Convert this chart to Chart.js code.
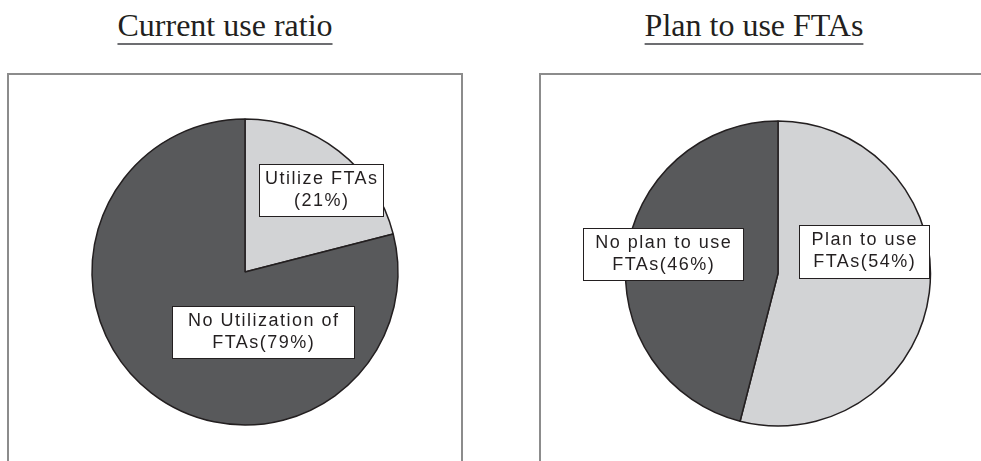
<!DOCTYPE html>
<html><head><meta charset="utf-8">
<script src="https://cdn.jsdelivr.net/npm/chart.js@4"></script>
<style>
html,body{margin:0;padding:0;background:#fff;width:981px;height:461px;overflow:hidden;position:relative}
.title{position:absolute;top:9px;width:400px;text-align:center;font:32px/32px "Liberation Serif","Times New Roman",serif;color:#231f20;text-decoration:underline;text-decoration-color:#6d6e71;text-decoration-thickness:2px;text-underline-offset:7px;white-space:nowrap}
.box{position:absolute;top:73px;border:2px solid #8c8c8c;box-sizing:border-box}
.wrap{position:absolute}
</style></head><body>
<div class="title" id="t1" style="left:25px"></div>
<div class="title" id="t2" style="left:554px"></div>
<div class="box" style="left:7px;width:456px;height:420px"></div>
<div class="box" style="left:539px;width:470px;height:420px"></div>
<div class="wrap" style="left:8px;top:74px;width:454px;height:387px"><canvas id="c1"></canvas></div>
<div class="wrap" style="left:540px;top:74px;width:441px;height:387px"><canvas id="c2"></canvas></div>
<script>
// ---- data ----
const titles = ['Current use ratio', 'Plan to use FTAs'];
const categories1 = ['Utilize FTAs', 'No Utilization of FTAs'];
const values1 = [21, 79];
const labelLines1 = [['Utilize FTAs', '(21%)'], ['No Utilization of', 'FTAs(79%)']];
const categories2 = ['Plan to use FTAs', 'No plan to use FTAs'];
const values2 = [54, 46];
const labelLines2 = [['Plan to use', 'FTAs(54%)'], ['No plan to use', 'FTAs(46%)']];
const sliceColors = ['#d2d3d5', '#58595b'];

document.getElementById('t1').textContent = titles[0];
document.getElementById('t2').textContent = titles[1];

const labelBoxes = {
  id: 'labelBoxes',
  afterDatasetsDraw(chart, args, opts) {
    const ctx = chart.ctx;
    const arcs = chart.getDatasetMeta(0).data;
    opts.items.forEach(it => {
      const arc = arcs[it.index];
      const cx = arc.x + it.dx, cy = arc.y + it.dy;
      ctx.save();
      const x = Math.round(cx - it.w / 2) + 0.5, y = Math.round(cy - it.h / 2) + 0.5;
      ctx.fillStyle = '#ffffff';
      ctx.strokeStyle = '#231f20';
      ctx.lineWidth = 1;
      ctx.fillRect(x, y, it.w, it.h);
      ctx.strokeRect(x, y, it.w, it.h);
      ctx.font = '18px "Liberation Sans", Arial, sans-serif';
      const ls = 1.5;
      ctx.letterSpacing = ls + 'px';
      ctx.fillStyle = '#231f20';
      ctx.textAlign = 'center';
      ctx.textBaseline = 'middle';
      const lh = 22;
      it.lines.forEach((t, i) => {
        ctx.fillText(t, cx + ls / 2, cy + (i - (it.lines.length - 1) / 2) * lh);
      });
      ctx.restore();
    });
  }
};

function makePie(id, cats, vals, radius, padding, items) {
  return new Chart(document.getElementById(id), {
    type: 'pie',
    data: {
      labels: cats,
      datasets: [{
        data: vals,
        backgroundColor: sliceColors,
        borderColor: '#231f20',
        borderWidth: 1.5,
        radius: radius
      }]
    },
    options: {
      responsive: true,
      maintainAspectRatio: false,
      animation: false,
      layout: { padding: padding },
      plugins: {
        legend: { display: false },
        tooltip: { enabled: false },
        labelBoxes: { items: items }
      }
    },
    plugins: [labelBoxes]
  });
}

makePie('c1', categories1, values1, 153, { left: 20, right: 0, top: 9, bottom: 0 }, [
  { index: 0, dx: 76, dy: -82, w: 124, h: 52, lines: labelLines1[0] },
  { index: 1, dx: 18, dy: 60, w: 182, h: 52, lines: labelLines1[1] }
]);
makePie('c2', categories2, values2, 152.5, { left: 35, right: 0, top: 12, bottom: 0 }, [
  { index: 0, dx: 86, dy: -22, w: 130, h: 53, lines: labelLines2[0] },
  { index: 1, dx: -115, dy: -19.5, w: 160, h: 52, lines: labelLines2[1] }
]);
</script>
</body></html>
